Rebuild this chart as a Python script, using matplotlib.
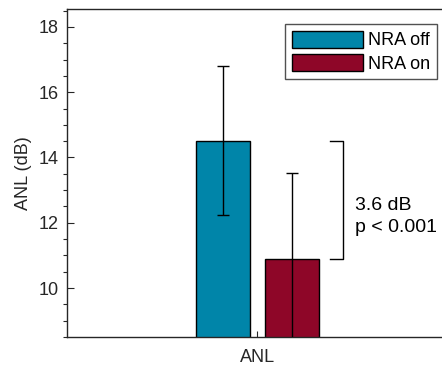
import matplotlib
matplotlib.use("Agg")
import matplotlib.pyplot as plt
from matplotlib.ticker import MultipleLocator
from matplotlib.patches import Patch

plt.rcParams['font.family'] = ['Liberation Sans', 'DejaVu Sans']

conditions = ["NRA off", "NRA on"]
means = [14.52, 10.89]
sds = [2.27, 2.65]
colors = ["#0085A9", "#8E0628"]
group_label = "ANL"
diff_text = "3.6 dB\np < 0.001"

fig = plt.figure(figsize=(4.42, 3.69), dpi=100)
ax = fig.add_axes([67 / 442, 32 / 369, 376 / 442, 328 / 369])

# grouped bar positions around the single group centre
center = 1.0
width = 0.29
offsets = [-0.183, 0.183]
xs = [center + o for o in offsets]

for x, m, s, c in zip(xs, means, sds, colors):
    ax.bar(x, m, width=width, color=c, edgecolor="black",
           linewidth=1.0, zorder=2)
    ax.errorbar(x, m, yerr=s, color="black", capsize=4.5, elinewidth=1.0,
                capthick=1.0, zorder=3)

# significance bracket between the two means
bx = xs[1] + 0.27
tick = 0.065
ax.plot([bx - tick, bx, bx, bx - tick], [means[0], means[0], means[1], means[1]],
        color="black", lw=1.0, zorder=3)
ax.text(bx + 0.065, 12.2, diff_text, fontsize=14,
        va="center", ha="left", linespacing=1.4)

ax.set_xlim(center - 1.01, center + 0.985)
ax.set_ylim(8.5, 18.55)
ax.set_xticks([center])
ax.set_xticklabels([group_label])
ax.yaxis.set_major_locator(MultipleLocator(2))
ax.yaxis.set_minor_locator(MultipleLocator(0.5))
ax.tick_params(axis="both", direction="in", labelsize=13, colors="#262626",
               labelcolor="#262626", width=0.8)
ax.tick_params(axis="y", which="major", length=5, pad=6)
ax.tick_params(axis="y", which="minor", length=3, width=0.8, color="#262626")
ax.tick_params(axis="x", length=4, pad=9)
ax.set_ylabel("ANL (dB)", fontsize=13, color="#262626", labelpad=5)

for side in ["left", "top", "bottom"]:
    ax.spines[side].set_color("#262626")
    ax.spines[side].set_linewidth(1.0)
ax.spines["right"].set_visible(False)

handles = [Patch(facecolor=c, edgecolor="black", linewidth=1.0) for c in colors]
leg = ax.legend(handles, conditions, loc="upper right",
                bbox_to_anchor=(437 / 442, 1 - 24 / 369),
                bbox_transform=fig.transFigure,
                fontsize=13, frameon=True, fancybox=False, handlelength=3.9,
                handleheight=1.05, handletextpad=0.3, borderpad=0.38,
                labelspacing=0.26, borderaxespad=0.0)
leg.get_frame().set_edgecolor("#262626")
leg.get_frame().set_linewidth(1.0)

fig.savefig("out.png", dpi=100)
